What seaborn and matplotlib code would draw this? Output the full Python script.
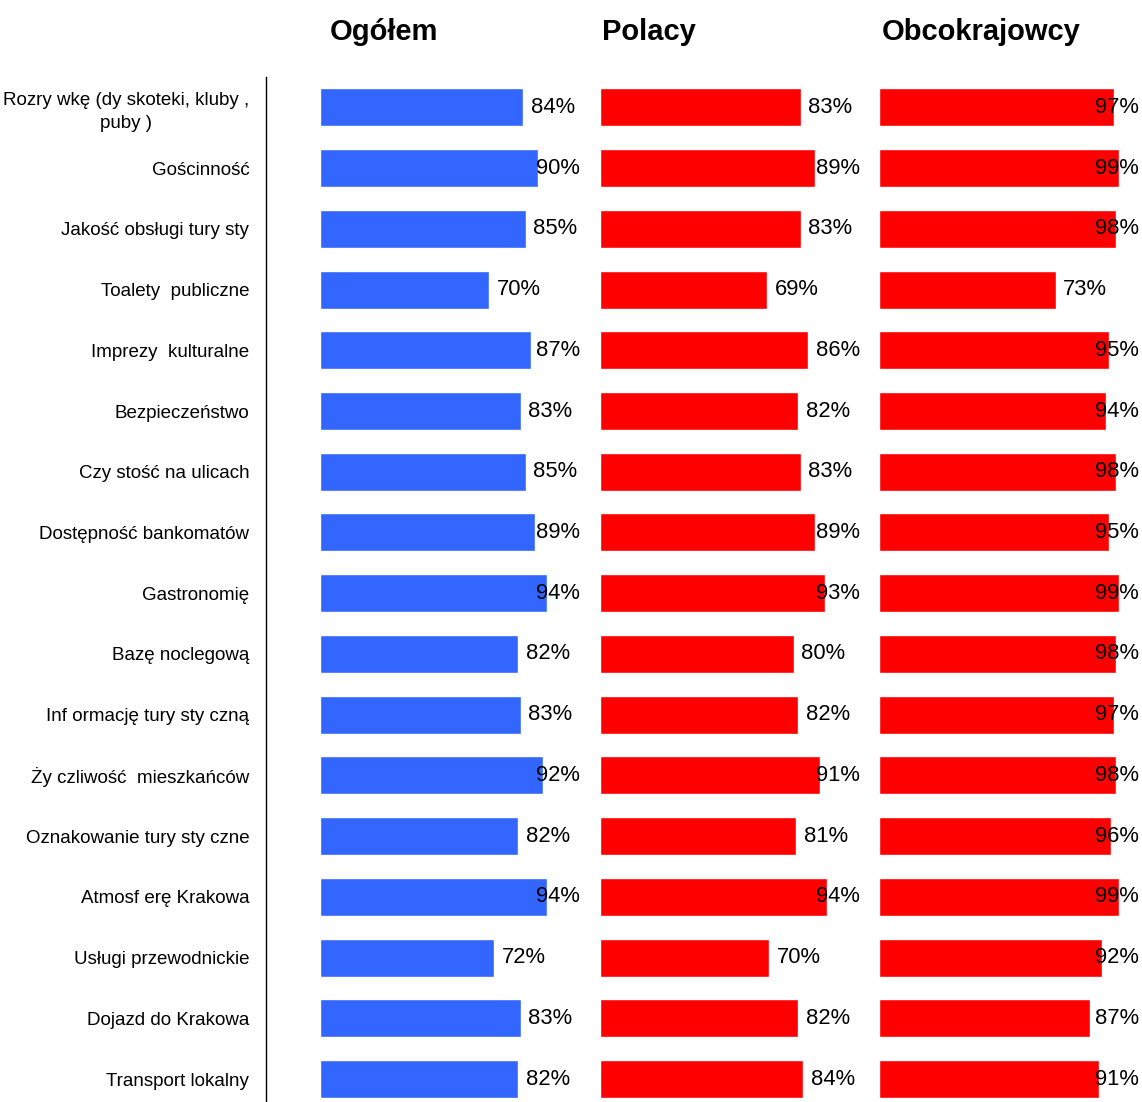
import seaborn as sns
import matplotlib.pyplot as plt
import pandas as pd

# Dane
kategorie = [
    "Rozry wkę (dy skoteki, kluby ,\npuby )",
    "Gościnność",
    "Jakość obsługi tury sty",
    "Toalety  publiczne",
    "Imprezy  kulturalne",
    "Bezpieczeństwo",
    "Czy stość na ulicach",
    "Dostępność bankomatów",
    "Gastronomię",
    "Bazę noclegową",
    "Inf ormację tury sty czną",
    "Ży czliwość  mieszkańców",
    "Oznakowanie tury sty czne",
    "Atmosf erę Krakowa",
    "Usługi przewodnickie",
    "Dojazd do Krakowa",
    "Transport lokalny",
]
ogolem = [84, 90, 85, 70, 87, 83, 85, 89, 94, 82, 83, 92, 82, 94, 72, 83, 82]
polacy = [83, 89, 83, 69, 86, 82, 83, 89, 93, 80, 82, 91, 81, 94, 70, 82, 84]
obcokrajowcy = [97, 99, 98, 73, 95, 94, 98, 95, 99, 98, 97, 98, 96, 99, 92, 87, 91]

tytuly = ["Ogółem", "Polacy", "Obcokrajowcy"]
kolory = ["#3366FF", "#FF0000", "#FF0000"]

sns.set_style("white")
plt.rcParams['font.family'] = ['Liberation Sans', 'DejaVu Sans']
plt.rcParams['text.color'] = 'black'
plt.rcParams['ytick.color'] = 'black'

W, H = 1142, 1102
fig = plt.figure(figsize=(W / 100, H / 100), dpi=100)

xmax = 107.4
px_per = 2.42
top = 1 - 77 / H
height = 1032.4 / H
bottom = top - height

# pozycje osi (piksele): lewa krawędź, początek słupków
lewe = [266, 600, 879]
xmin = [-(320 - 266) / px_per, 0, 0]
tyt_x = [4, 0.8, 1.2]

osie = []
for i, (seria, tyt, kol) in enumerate(zip([ogolem, polacy, obcokrajowcy], tytuly, kolory)):
    szer = (xmax - xmin[i]) * px_per
    ax = fig.add_axes([lewe[i] / W, bottom, szer / W, height])
    df = pd.DataFrame({"kat": kategorie, "val": seria})
    sns.barplot(data=df, x="val", y="kat", orient="h", color=kol, saturation=1,
                width=0.625, ax=ax)
    ax.set_xlim(xmin[i], xmax)
    ax.set_xlabel("")
    ax.set_ylabel("")
    ax.set_xticks([])
    for s in ["top", "right", "bottom"]:
        ax.spines[s].set_visible(False)
    if i == 0:
        ax.spines["left"].set_color("black")
        ax.spines["left"].set_linewidth(1)
        ax.tick_params(axis="y", length=0, pad=12, labelsize=13.5, labelcolor="black")
        for t in ax.get_yticklabels():
            t.set_multialignment("center")
            t.set_linespacing(1.45)
    else:
        ax.spines["left"].set_visible(False)
        ax.set_yticks([])
    ax.text(tyt_x[i], 1.0436, tyt, transform=ax.get_xaxis_transform(), fontsize=21,
            fontweight="bold", ha="left", va="center", color="black")
    teksty = []
    for j, v in enumerate(seria):
        t = ax.text(v + 3.1, j, f"{v}%", fontsize=15.8, va="center", ha="left",
                    color="black", clip_on=False)
        teksty.append(t)
    osie.append((ax, teksty))

# etykiety przy prawej krawędzi nie mogą wyjść poza panel
fig.canvas.draw()
r = fig.canvas.get_renderer()
for ax, teksty in osie:
    prawa = ax.transData.transform((xmax, 0))[0]
    for t in teksty:
        bb = t.get_window_extent(r)
        if bb.x1 > prawa:
            t.set_x(xmax)
            t.set_ha("right")

fig.savefig("out.png", dpi=100)
